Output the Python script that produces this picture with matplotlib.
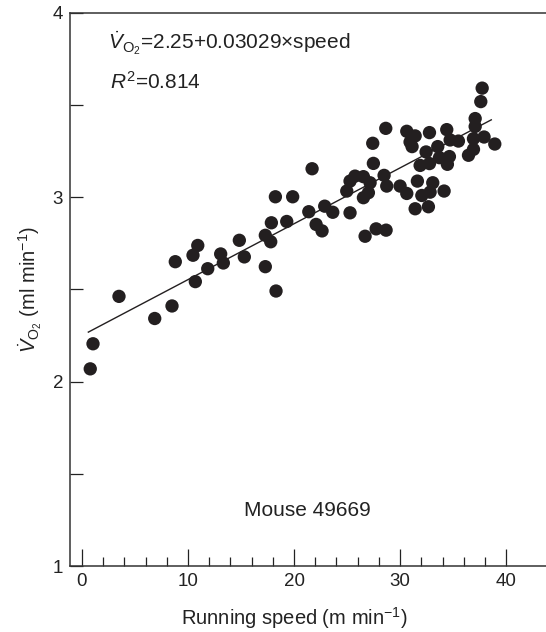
import matplotlib.pyplot as plt
import numpy as np

plt.rcParams["font.family"] = ["Liberation Sans", "DejaVu Sans"]
plt.rcParams["mathtext.fontset"] = "custom"
plt.rcParams["mathtext.rm"] = "Liberation Sans"
plt.rcParams["mathtext.it"] = "Liberation Sans:italic"
plt.rcParams["mathtext.bf"] = "Liberation Sans:bold"

# running speed (m/min) and VO2 (ml/min)
speed = [
    0.78, 1.04, 3.49, 6.86, 8.49, 8.80, 10.47, 10.92, 10.69, 11.86,
    13.08, 13.33, 14.84, 15.31, 17.29, 17.80, 17.29, 18.30, 17.86, 19.31,
    18.24, 19.87, 21.70, 21.39, 22.89, 23.65, 22.08, 22.64, 25.28,
    24.97, 25.28, 25.75, 26.54, 27.17, 27.01, 26.54,
    27.42, 28.65, 27.48, 28.49, 28.74, 26.70, 27.74, 28.68, 30.00, 30.63,
    31.63, 33.08, 32.05, 32.83, 34.15, 31.42, 32.67, 30.63, 31.42, 30.94,
    32.77, 34.40, 31.13, 33.55, 32.45, 34.72, 35.50, 31.89, 32.77, 33.71,
    34.46, 34.65, 37.74, 37.61, 37.08, 37.08, 36.92, 37.92, 38.93, 36.92,
    36.45,
]
vo2 = [
    2.069, 2.205, 2.462, 2.342, 2.410, 2.650, 2.685, 2.738, 2.542, 2.612,
    2.692, 2.643, 2.766, 2.676, 2.793, 2.758, 2.623, 2.491, 2.861, 2.868,
    3.002, 3.002, 3.154, 2.921, 2.951, 2.918, 2.852, 2.817, 2.915,
    3.033, 3.087, 3.114, 3.111, 3.078, 3.024, 2.997,
    3.292, 3.373, 3.183, 3.118, 3.060, 2.788, 2.828, 2.821, 3.060, 3.020,
    3.087, 3.078, 3.009, 3.027, 3.033, 2.937, 2.948, 3.357, 3.332, 3.299,
    3.350, 3.366, 3.274, 3.274, 3.245, 3.310, 3.304, 3.172, 3.182, 3.214,
    3.178, 3.220, 3.591, 3.518, 3.426, 3.383, 3.317, 3.326, 3.288, 3.259,
    3.227,
]

intercept = 2.25
slope = 0.03029
r2 = 0.814
fit_range = [0.6, 38.6]

fig = plt.figure(figsize=(5.46, 6.32), dpi=100)
ax = fig.add_axes([0.1282, 0.1044, 0.872, 0.8755])

dot_col = "#231f20"
txt_col = "#222222"
ax.scatter(speed, vo2, s=92, color=dot_col, edgecolors="none", zorder=3)

# regression line
xs = np.array(fit_range)
ax.plot(xs, intercept + slope * xs, color=dot_col, lw=1.0, zorder=2)

ax.set_xlim(-1.13, 43.77)
ax.set_ylim(1, 4)

ax.spines["right"].set_visible(False)
for s in ["left", "bottom", "top"]:
    ax.spines[s].set_linewidth(1.1)
    ax.spines[s].set_color("#333333")

ax.set_xticks([0, 10, 20, 30, 40])
ax.set_xticks(np.arange(0, 42, 2), minor=True)
ax.set_yticks([1, 2, 3, 4])
ax.set_yticks([1.5, 2.5, 3.5], minor=True)
ax.tick_params(axis="x", which="major", direction="in", length=12, width=0.9,
               labelsize=13.5, pad=5, colors=txt_col)
ax.tick_params(axis="x", which="minor", direction="in", length=6.3, width=0.9,
               colors=txt_col)
ax.tick_params(axis="y", which="both", direction="in", length=9.4, width=0.9,
               labelsize=13.5, pad=5, colors=txt_col)

ax.set_xlabel(r"Running speed (m min$^{-1}$)", fontsize=14.5, color=txt_col)
ax.xaxis.set_label_coords(0.472, -0.07)
ax.set_ylabel(r"$\dot{V}_{\mathrm{O}_2}$ (ml min$^{-1}$)", fontsize=14.5,
              labelpad=6, color=txt_col)

ax.text(0.080, 0.945,
        r"$\dot{V}_{\mathrm{O}_2}$=" + f"{intercept}+{slope}" + "\u00d7speed",
        transform=ax.transAxes, fontsize=15, color=txt_col, va="center")
ax.text(0.084, 0.875, r"$R^2$=" + f"{r2}", transform=ax.transAxes,
        fontsize=15, color=txt_col, va="center")
ax.text(0.499, 0.101, "Mouse 49669", transform=ax.transAxes, fontsize=15,
        color=txt_col, ha="center", va="center")

fig.savefig("out.png", dpi=100)
